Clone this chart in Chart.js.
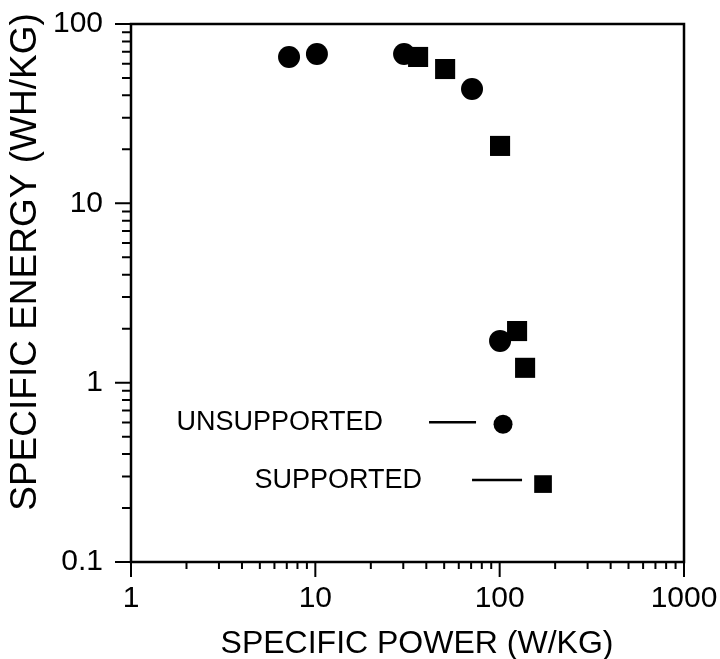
<!DOCTYPE html>
<html>
<head>
<meta charset="utf-8">
<script src="https://cdn.jsdelivr.net/npm/chart.js@4/dist/chart.umd.min.js"></script>
<style>
  html, body { margin: 0; padding: 0; background: #fff; }
</style>
</head>
<body>
<canvas id="chart" width="720" height="659"></canvas>
<script>
// Unsupported electrodes (round markers)
const unsupportedPower = [7.2, 10.2, 30.3, 70.8, 100.5];
const unsupportedEnergy = [65.5, 68, 68, 43.4, 1.71];

// Supported electrodes (square markers)
const supportedPower = [36.1, 50.6, 100.5, 124.3, 137.4];
const supportedEnergy = [65.5, 56.1, 20.9, 1.94, 1.21];

// Key markers drawn inside the plot, with their labels
const keyLabels = ['UNSUPPORTED', 'SUPPORTED'];
const keyPower = [104.3, 171.9];
const keyEnergy = [0.587, 0.272];

// Decade labels on both axes
const xDecades = [1, 10, 100, 1000];
const yDecades = [0.1, 1, 10, 100];

const FONT = '"Liberation Sans", Arial, Helvetica, sans-serif';

// tick marks at 1..9 of every decade
function logTicks(decades) {
    const out = [];
    for (let i = 0; i < decades.length - 1; i++) {
        for (let m = 1; m <= 9; m++) out.push({ value: m * decades[i] });
    }
    out.push({ value: decades[decades.length - 1] });
    return out;
}

function isDecade(v) {
    const l = Math.log10(v);
    return Math.abs(l - Math.round(l)) < 1e-9;
}

function toPoints(xs, ys) {
    return xs.map((x, i) => ({ x: x, y: ys[i] }));
}

// Frame, tick marks, axis titles and key text drawn around the library's scales
const paperPlugin = {
    id: 'paper',
    beforeDatasetsDraw(chart) {
        const { ctx, chartArea: a, scales: { x, y } } = chart;
        ctx.save();
        ctx.strokeStyle = '#000';
        ctx.lineWidth = 2;
        ctx.beginPath();
        x.ticks.forEach(t => {
            const px = x.getPixelForValue(t.value);
            const len = isDecade(t.value) ? 15 : 7;
            ctx.moveTo(px, a.bottom);
            ctx.lineTo(px, a.bottom + len);
        });
        y.ticks.forEach(t => {
            const py = y.getPixelForValue(t.value);
            const len = isDecade(t.value) ? 16 : 9;
            ctx.moveTo(a.left - len, py);
            ctx.lineTo(a.left, py);
        });
        ctx.stroke();
        ctx.lineWidth = 2.5;
        ctx.strokeRect(a.left, a.top, a.right - a.left, a.bottom - a.top);

        ctx.fillStyle = '#000';
        ctx.textAlign = 'center';
        ctx.textBaseline = 'alphabetic';

        // x axis title
        ctx.font = '32px ' + FONT;
        ctx.fillText('SPECIFIC POWER (W/KG)', 417, 653);

        // y axis title
        ctx.font = '37px ' + FONT;
        ctx.translate(36, 262);
        ctx.rotate(-Math.PI / 2);
        ctx.fillText('SPECIFIC ENERGY (WH/KG)', 0, 0);
        ctx.restore();
    },
    afterDatasetsDraw(chart) {
        const { ctx } = chart;
        ctx.save();
        ctx.fillStyle = '#000';
        ctx.strokeStyle = '#000';
        ctx.lineWidth = 2.5;
        ctx.font = '27px ' + FONT;
        ctx.textAlign = 'right';
        ctx.textBaseline = 'alphabetic';
        const keyOffsets = [
            { text: 120, lineFrom: 74, lineTo: 27, textDy: 6, lineDy: -2 },
            { text: 121, lineFrom: 71, lineTo: 21, textDy: 4, lineDy: -4 }
        ];
        keyLabels.forEach((label, i) => {
            const pt = chart.getDatasetMeta(2 + i).data[0];
            const o = keyOffsets[i];
            ctx.fillText(label, pt.x - o.text, pt.y + o.textDy);
            ctx.beginPath();
            ctx.moveTo(pt.x - o.lineFrom, pt.y + o.lineDy);
            ctx.lineTo(pt.x - o.lineTo, pt.y + o.lineDy);
            ctx.stroke();
        });
        ctx.restore();
    }
};

new Chart(document.getElementById('chart').getContext('2d'), {
    type: 'scatter',
    data: {
        datasets: [
            {
                label: 'Supported',
                data: toPoints(supportedPower, supportedEnergy),
                pointStyle: 'rect',
                pointRadius: 14.2,
                backgroundColor: '#000',
                borderColor: '#000',
                borderWidth: 0
            },
            {
                label: 'Unsupported',
                data: toPoints(unsupportedPower, unsupportedEnergy),
                pointStyle: 'circle',
                pointRadius: 11,
                backgroundColor: '#000',
                borderColor: '#000',
                borderWidth: 0
            },
            {
                label: keyLabels[0],
                data: toPoints([keyPower[0]], [keyEnergy[0]]),
                pointStyle: 'circle',
                pointRadius: 9.5,
                backgroundColor: '#000',
                borderWidth: 0
            },
            {
                label: keyLabels[1],
                data: toPoints([keyPower[1]], [keyEnergy[1]]),
                pointStyle: 'rect',
                pointRadius: 12.5,
                backgroundColor: '#000',
                borderWidth: 0
            }
        ]
    },
    options: {
        responsive: false,
        animation: false,
        layout: { padding: { top: 24, right: 36, left: 0, bottom: 0 } },
        plugins: {
            legend: { display: false },
            tooltip: { enabled: false }
        },
        scales: {
            x: {
                type: 'logarithmic',
                min: 1,
                max: 1000,
                afterBuildTicks: scale => { scale.ticks = logTicks(xDecades); },
                afterFit: scale => {
                    scale.height = 97;
                    scale.paddingLeft = 0;
                    scale.paddingRight = 0;
                },
                grid: { display: false, drawTicks: false },
                border: { display: false },
                ticks: {
                    autoSkip: false,
                    maxRotation: 0,
                    padding: 19,
                    color: '#000',
                    font: { family: FONT, size: 30 },
                    callback: v => xDecades.includes(v) ? String(v) : ''
                }
            },
            y: {
                type: 'logarithmic',
                min: 0.1,
                max: 100,
                afterBuildTicks: scale => { scale.ticks = logTicks(yDecades); },
                afterFit: scale => {
                    scale.width = 131;
                    scale.paddingTop = 0;
                    scale.paddingBottom = 0;
                },
                grid: { display: false, drawTicks: false },
                border: { display: false },
                ticks: {
                    autoSkip: false,
                    padding: 28,
                    color: '#000',
                    font: { family: FONT, size: 30 },
                    callback: v => yDecades.includes(v) ? String(v) : ''
                }
            }
        }
    },
    plugins: [paperPlugin]
});
</script>
</body>
</html>
